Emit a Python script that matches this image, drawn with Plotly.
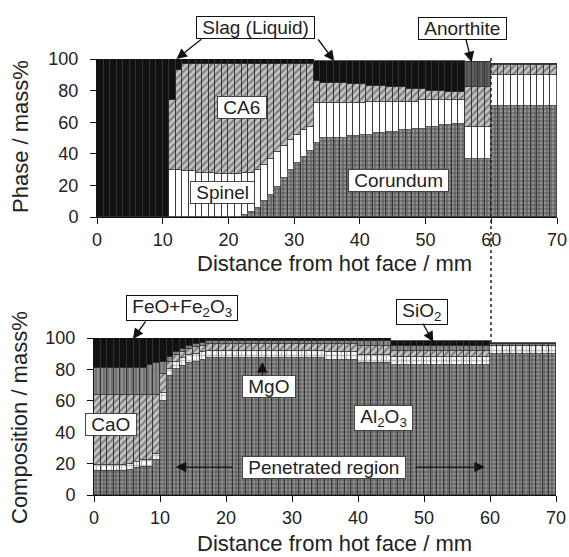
import plotly.graph_objects as go

# ---------------- data (1 mm bins, 0..70 mm) ----------------
distance_mm = [i + 0.5 for i in range(70)]

# Top chart: phase / mass%
corundum = [0]*22 + [1, 3, 6, 10, 14, 19, 25, 30, 34, 38, 42,
           47, 50, 50, 50, 50, 51, 51, 52, 52, 53, 53, 54, 54, 55, 55, 56, 56, 57, 57, 58, 58, 59, 59,
           37, 37, 37, 37,
           70, 70, 70, 70, 70, 70, 70, 70, 70, 70]
spinel = [0]*11 + [30, 30, 29, 29, 28, 28, 28, 27, 27, 27, 27, 27, 25, 24, 23, 23, 22, 20, 19, 18, 17, 15,
          25, 22, 22, 22, 22, 21, 21, 20, 21, 20, 20, 19, 19, 18, 18, 17, 18, 17, 17, 16, 16, 15, 15,
          20, 20, 20, 20,
          20, 20, 20, 20, 20, 20, 20, 20, 20, 20]
ca6 = [0]*11 + [44, 63, 68, 68, 69, 69, 69, 70, 70, 70, 70, 69, 69, 67, 64, 60, 56, 52, 48, 45, 42, 40,
       14, 13, 13, 13, 13, 12, 12, 12, 10, 10, 10, 9, 9, 9, 8, 8, 7, 6, 6, 6, 5, 5, 5,
       25, 25, 25, 25,
       6, 6, 6, 6, 6, 6, 6, 6, 6, 6]
anorthite = [0]*56 + [16, 16, 16, 16] + [1]*10
slag = [100]*11 + [26, 7] + [3]*20 + \
       [13, 14, 14, 14, 14, 15, 15, 15, 16, 16, 16, 17, 17, 17, 18, 18, 18, 19, 19, 19, 20, 20, 20] + \
       [0]*14

# Bottom chart: composition / mass%
al2o3 = [15, 15, 15, 15, 15, 16, 17, 18, 18, 22, 60, 76, 80, 82, 84, 85, 86] + [87]*18 + \
        [86]*5 + [84]*5 + [83]*15 + [90]*10
mgo = [4]*10 + [5, 4] + [5]*48 + [5]*10
cao = [45, 45, 45, 45, 45, 44, 43, 42, 42, 38, 12, 5] + [4]*23 + [5]*5 + [6]*5 + [4]*15 + [0]*10
sio2 = [17, 17, 17, 17, 17, 17, 17, 17, 19, 20, 8, 3] + [2]*23 + [2]*5 + [3]*5 + [3]*15 + [1]*10
feo = [19, 19, 19, 19, 19, 19, 19, 19, 17, 16, 15, 12, 9, 7, 5, 4, 3] + [2]*18 + \
      [2]*5 + [2]*5 + [3]*15 + [1]*10

x_ticks = [0, 10, 20, 30, 40, 50, 60, 70]
y_ticks = [0, 20, 40, 60, 80, 100]

FONT = "Liberation Sans, Arial, sans-serif"
OUTLINE = dict(color="#333333", width=0.8)
W, H = 569, 557


def bar(name, vals, xa, ya, color, shape="", fg="#333", size=5, solidity=0.35):
    marker = dict(color=color, line=OUTLINE)
    if shape:
        marker["pattern"] = dict(shape=shape, fgcolor=fg, bgcolor=color,
                                 size=size, solidity=solidity)
    return go.Bar(x=distance_mm, y=vals, width=1, name=name, marker=marker,
                  xaxis=xa, yaxis=ya, showlegend=False, hoverinfo="skip")


fig = go.Figure()
# top
fig.add_trace(bar("Corundum", corundum, "x", "y", "#929292", "+", "#1a1a1a", 4, 0.45))
fig.add_trace(bar("Spinel", spinel, "x", "y", "#ffffff"))
fig.add_trace(bar("CA6", ca6, "x", "y", "#c4c4c4", "/", "#3a3a3a", 5, 0.42))
fig.add_trace(bar("Anorthite", anorthite, "x", "y", "#5e5e5e", "|", "#2a2a2a", 4, 0.3))
fig.add_trace(bar("Slag", slag, "x", "y", "#111111"))
# bottom
fig.add_trace(bar("Al2O3", al2o3, "x2", "y2", "#929292", "+", "#1a1a1a", 4, 0.45))
fig.add_trace(bar("MgO", mgo, "x2", "y2", "#ffffff", "+", "#777", 5, 0.45))
fig.add_trace(bar("CaO", cao, "x2", "y2", "#c4c4c4", "/", "#3a3a3a", 5, 0.42))
fig.add_trace(bar("SiO2", sio2, "x2", "y2", "#8c8c8c", "|", "#333", 4, 0.3))
fig.add_trace(bar("FeO+Fe2O3", feo, "x2", "y2", "#111111"))

tick_font = dict(family=FONT, size=18, color="#222")
axis_common = dict(range=[0, 70], tickvals=x_ticks, showgrid=False, zeroline=False,
                   showline=True, linecolor="#111", linewidth=1, ticks="outside",
                   ticklen=6, tickcolor="#111", tickfont=tick_font)
yaxis_common = dict(range=[0, 100], tickvals=y_ticks, showgrid=False, zeroline=False,
                    showline=True, linecolor="#111", linewidth=1, ticks="outside",
                    ticklen=6, tickcolor="#111", ticklabelstandoff=8, tickfont=tick_font)

fig.update_layout(
    width=W, height=H, margin=dict(l=0, r=0, t=0, b=0, autoexpand=False),
    paper_bgcolor="white", plot_bgcolor="white",
    barmode="stack", bargap=0,
    xaxis=dict(domain=[97/W, 557/W], anchor="y", **axis_common),
    yaxis=dict(domain=[(H-217)/H, (H-59)/H], anchor="x", **yaxis_common),
    xaxis2=dict(domain=[94/W, 556/W], anchor="y2", **axis_common),
    yaxis2=dict(domain=[(H-495)/H, (H-338)/H], anchor="x2", **yaxis_common),
)

ann = []
title_font = dict(family=FONT, size=22, color="#222")


def ptext(text, px, py, angle=0):
    return dict(text=text, x=px/W, y=(H-py)/H, xref="paper", yref="paper", textangle=angle,
                showarrow=False, font=title_font, xanchor="center", yanchor="middle")


ann += [
    ptext("Phase / mass%", 20, 137, -90),
    ptext("Distance from hot face / mm", 334, 263),
    ptext("Composition / mass%", 20, 418, -90),
    ptext("Distance from hot face / mm", 334, 543),
]

lab_font = dict(family=FONT, size=19, color="#222")
NB = "\u00a0"


def box(text, x, y, xr, yr, border="#444"):
    return dict(text=NB + text + NB, x=x, y=y, xref=xr, yref=yr, showarrow=False, font=lab_font,
                bgcolor="white", bordercolor=border, borderwidth=1, borderpad=0,
                xanchor="center", yanchor="middle")


def pbox(text, px, py):
    return box(text, px/W, (H-py)/H, "paper", "paper", "#111")


def arrow(tx, ty, hx, hy, xr, yr):
    return dict(text="", x=hx, y=hy, ax=tx, ay=ty, xref=xr, yref=yr, axref=xr, ayref=yr,
                showarrow=True, arrowhead=2, arrowsize=1.6, arrowwidth=1.3, arrowcolor="#111",
                standoff=0, startstandoff=0)


# top chart labels
ann += [
    pbox("Slag (Liquid)", 256, 27),
    arrow(16.1, 113.3, 12.1, 100.0, "x", "y"),
    arrow(33.5, 113.3, 36.1, 98.7, "x", "y"),
    pbox("Anorthite", 462, 28),
    arrow(56.1, 113.3, 57.0, 98.0, "x", "y"),
    box("CA6", 22.1, 69, "x", "y"),
    box("Spinel", 19.1, 15.8, "x", "y"),
    box("Corundum", 45.9, 23.4, "x", "y"),
]
# bottom chart labels
ann += [
    pbox("FeO+Fe<sub>2</sub>O<sub>3</sub>", 182, 308),
    arrow(8.0, 111.5, 5.9, 99.4, "x2", "y2"),
    pbox("SiO<sub>2</sub>", 422, 312),
    arrow(49.7, 110.2, 51.4, 97.5, "x2", "y2"),
    box("CaO", 2.6, 44.6, "x2", "y2"),
    box("MgO", 26.5, 68.8, "x2", "y2"),
    arrow(25.5, 75.2, 25.5, 84.7, "x2", "y2"),
    box("Al<sub>2</sub>O<sub>3</sub>", 43.8, 49, "x2", "y2"),
    box("Penetrated region", 34.8, 17.8, "x2", "y2"),
    arrow(21.3, 17.8, 12.4, 17.8, "x2", "y2"),
    arrow(48.5, 17.8, 59.2, 17.8, "x2", "y2"),
]
fig.update_layout(annotations=ann)

# dotted guide line at 60 mm linking both charts
fig.add_shape(type="line", xref="paper", yref="paper",
              x0=491/W, x1=491/W, y0=(H-343)/H, y1=(H-55)/H,
              line=dict(color="#222", width=1.5, dash="dot"), layer="above")

fig.write_html("out.html", config={"displayModeBar": False},
               post_script="document.body.style.margin='0';document.body.style.overflow='hidden';")
